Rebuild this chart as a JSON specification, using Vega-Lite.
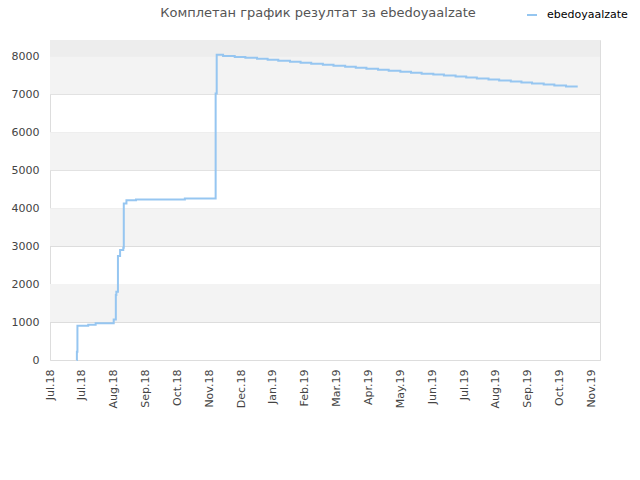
{
  "$schema": "https://vega.github.io/schema/vega-lite/v6.json",
  "width": 550,
  "height": 320,
  "autosize": {"type": "none"},
  "padding": {"left": 50, "top": 40, "right": 40, "bottom": 120},
  "background": "white",
  "config": {
    "font": "DejaVu Sans",
    "view": {"stroke": "#dddddd", "strokeWidth": 1}
  },
  "title": {
    "text": "Комплетан график резултат за ebedoyaalzate",
    "fontSize": 13,
    "fontWeight": "normal",
    "color": "#555555",
    "anchor": "middle",
    "dx": -7,
    "offset": 0,
    "dy": 11
  },
  "datasets": {
    "bands": [
      {"lo": 1000, "hi": 2000, "shade": "a"},
      {"lo": 3000, "hi": 4000, "shade": "a"},
      {"lo": 5000, "hi": 6000, "shade": "a"},
      {"lo": 7000, "hi": 8000, "shade": "a"},
      {"lo": 8000, "hi": 8430, "shade": "b"}
    ],
    "score": [
      {"date": "2018-07-26T00:00", "value": 0},
      {"date": "2018-07-26T08:00", "value": 220},
      {"date": "2018-07-26T20:00", "value": 903},
      {"date": "2018-08-06T00:00", "value": 930},
      {"date": "2018-08-13T00:00", "value": 966},
      {"date": "2018-08-30T00:00", "value": 1070},
      {"date": "2018-09-01T00:00", "value": 1710},
      {"date": "2018-09-01T12:00", "value": 1800},
      {"date": "2018-09-03T00:00", "value": 2737},
      {"date": "2018-09-05T00:00", "value": 2895},
      {"date": "2018-09-08T00:00", "value": 2955},
      {"date": "2018-09-08T12:00", "value": 4123},
      {"date": "2018-09-11T00:00", "value": 4210},
      {"date": "2018-09-20T00:00", "value": 4228},
      {"date": "2018-11-05T00:00", "value": 4255},
      {"date": "2018-12-04T00:00", "value": 7018},
      {"date": "2018-12-05T00:00", "value": 8040},
      {"date": "2018-12-11T00:00", "value": 8010},
      {"date": "2018-12-22T00:00", "value": 7985},
      {"date": "2019-01-01T00:00", "value": 7960},
      {"date": "2019-01-12T00:00", "value": 7934},
      {"date": "2019-01-22T00:00", "value": 7908},
      {"date": "2019-02-01T00:00", "value": 7882},
      {"date": "2019-02-12T00:00", "value": 7856},
      {"date": "2019-02-22T00:00", "value": 7830},
      {"date": "2019-03-04T00:00", "value": 7804},
      {"date": "2019-03-15T00:00", "value": 7778},
      {"date": "2019-03-25T00:00", "value": 7752},
      {"date": "2019-04-05T00:00", "value": 7726},
      {"date": "2019-04-15T00:00", "value": 7700},
      {"date": "2019-04-25T00:00", "value": 7674},
      {"date": "2019-05-06T00:00", "value": 7648},
      {"date": "2019-05-16T00:00", "value": 7622},
      {"date": "2019-05-27T00:00", "value": 7596},
      {"date": "2019-06-06T00:00", "value": 7570},
      {"date": "2019-06-16T00:00", "value": 7544},
      {"date": "2019-06-27T00:00", "value": 7518},
      {"date": "2019-07-07T00:00", "value": 7492},
      {"date": "2019-07-18T00:00", "value": 7466},
      {"date": "2019-07-28T00:00", "value": 7440},
      {"date": "2019-08-07T00:00", "value": 7414},
      {"date": "2019-08-18T00:00", "value": 7388},
      {"date": "2019-08-28T00:00", "value": 7362},
      {"date": "2019-09-08T00:00", "value": 7336},
      {"date": "2019-09-18T00:00", "value": 7310},
      {"date": "2019-09-28T00:00", "value": 7284},
      {"date": "2019-10-09T00:00", "value": 7258},
      {"date": "2019-10-19T00:00", "value": 7232},
      {"date": "2019-10-30T00:00", "value": 7206},
      {"date": "2019-11-10T00:00", "value": 7206}
    ]
  },
  "encoding": {
    "y": {
      "type": "quantitative",
      "scale": {"domain": [0, 8430], "nice": false},
      "axis": {
        "title": null,
        "values": [0, 1000, 2000, 3000, 4000, 5000, 6000, 7000, 8000],
        "format": "d",
        "grid": true,
        "gridColor": "#dddddd",
        "ticks": false,
        "domain": false,
        "labelFontSize": 11,
        "labelColor": "#444444",
        "labelPadding": 11
      }
    }
  },
  "layer": [
    {
      "data": {"name": "bands"},
      "mark": {"type": "rect"},
      "encoding": {
        "y": {"field": "lo", "type": "quantitative"},
        "y2": {"field": "hi"},
        "color": {
          "condition": {"test": "datum.shade === 'b'", "value": "#ededed"},
          "value": "#f3f3f3"
        }
      }
    },
    {
      "data": {"name": "score"},
      "mark": {"type": "line", "interpolate": "step-after", "strokeWidth": 2, "opacity": 0.95},
      "encoding": {
        "x": {
          "field": "date",
          "type": "temporal",
          "scale": {"domain": ["2018-07-01T00:00", "2019-12-01T00:00"]},
          "axis": {
            "title": null,
            "grid": false,
            "ticks": false,
            "domain": false,
            "labelAngle": -90,
            "labelFontSize": 11,
            "labelColor": "#444444",
            "labelPadding": 9,
            "format": "%b.%y",
            "values": [
              "2018-07-01T00:00", "2018-07-31T00:00", "2018-08-30T00:00", "2018-09-29T00:00",
              "2018-10-29T00:00", "2018-11-28T00:00", "2018-12-28T00:00", "2019-01-27T00:00",
              "2019-02-26T00:00", "2019-03-28T00:00", "2019-04-27T00:00", "2019-05-27T00:00",
              "2019-06-26T00:00", "2019-07-26T00:00", "2019-08-25T00:00", "2019-09-24T00:00",
              "2019-10-24T00:00", "2019-11-23T00:00"
            ]
          }
        },
        "y": {"field": "value", "type": "quantitative"},
        "color": {
          "datum": "ebedoyaalzate",
          "type": "nominal",
          "scale": {"domain": ["ebedoyaalzate"], "range": ["#90c3f0"]},
          "legend": {
            "title": null,
            "orient": "none",
            "legendX": 476,
            "legendY": -31,
            "symbolType": "stroke",
            "symbolSize": 100,
            "symbolStrokeWidth": 2,
            "labelFontSize": 11,
            "labelColor": "#000000",
            "labelOffset": 9
          }
        }
      }
    }
  ]
}
